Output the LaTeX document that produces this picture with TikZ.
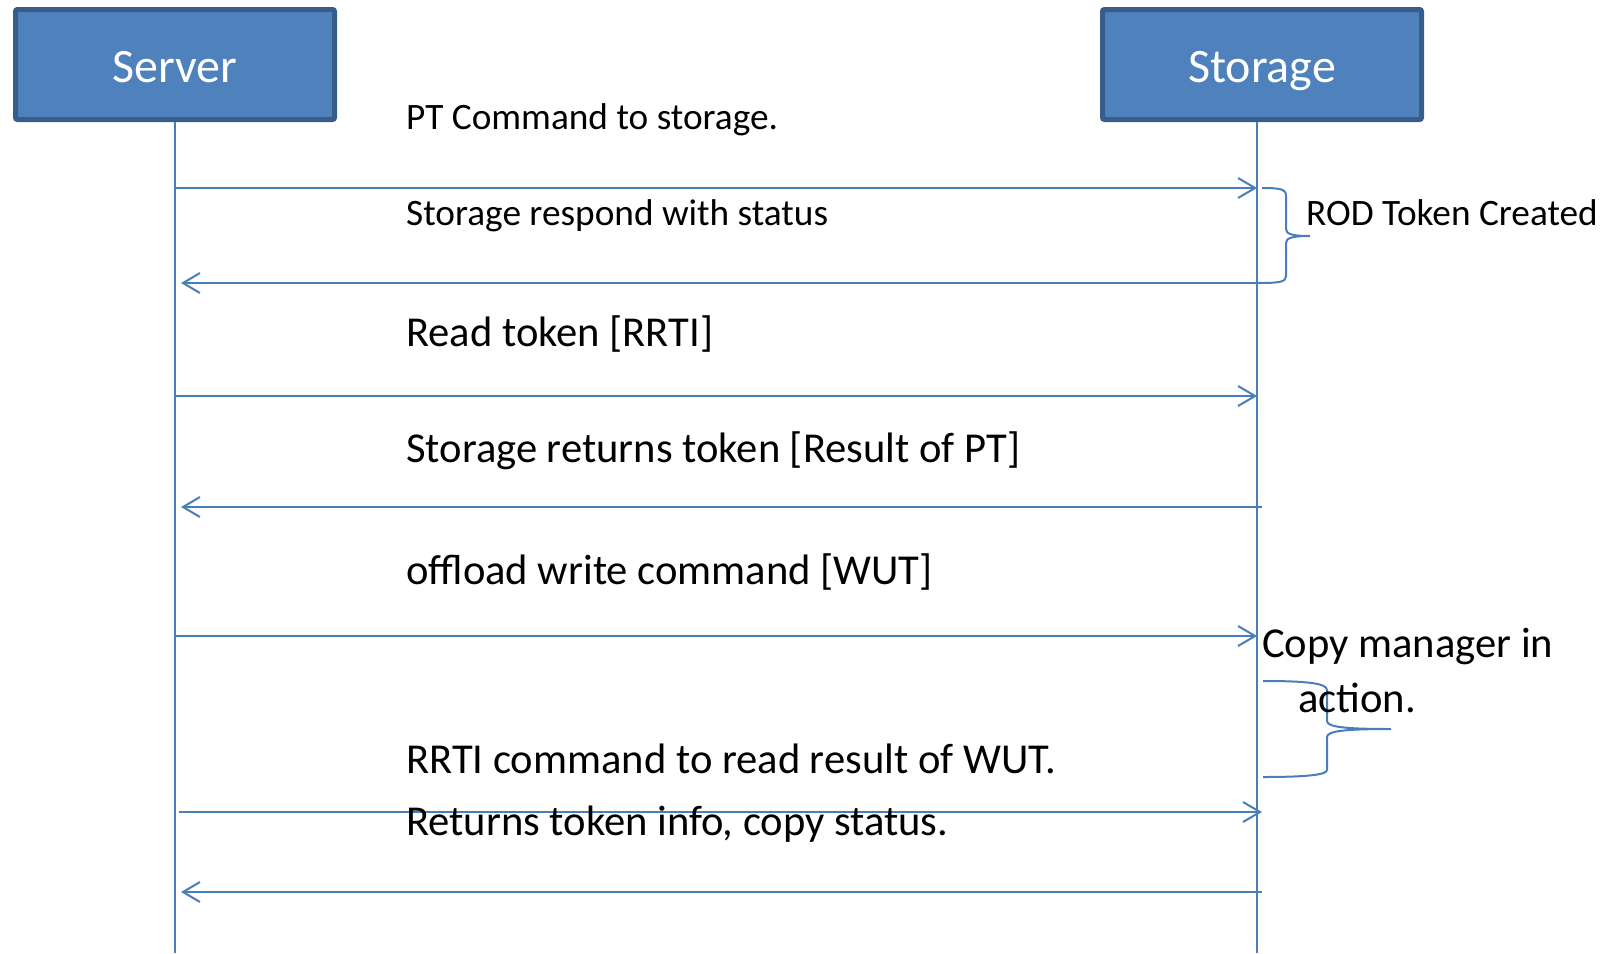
\documentclass[tikz,border=0pt]{standalone}
\usepackage{fontspec}
\setmainfont{Carlito}
\usetikzlibrary{arrows.meta}
\definecolor{boxfill}{HTML}{4F81BD}
\definecolor{boxedge}{HTML}{385D8A}
\definecolor{linec}{HTML}{4A7EBB}
\tikzset{
  actor/.style={draw=boxedge, line width=5pt, fill=boxfill, rounded corners=2pt,
    minimum width=319pt, minimum height=110pt, inner sep=0pt,
    text=white, font=\fontsize{48}{56}\selectfont, text height=35pt, text depth=0pt},
  lifeline/.style={draw=linec, line width=2pt},
  msg/.style={draw=linec, line width=2pt, -{Straight Barb[length=17pt,width=20pt,line width=2pt]}},
  bracepath/.style={draw=linec, line width=2pt},
  smalltxt/.style={anchor=base west, inner sep=0pt, font=\fontsize{37.3}{44}\selectfont},
  bigtxt/.style={anchor=base west, inner sep=0pt, font=\fontsize{42.6}{50}\selectfont},
}
\begin{document}
\begin{tikzpicture}[x=1pt,y=-1pt]
\useasboundingbox (0,0) rectangle (1616,953);
% actors
\node[actor] (server) at (175,64.5) {Server};
\node[actor] (storage) at (1262,64.5) {Storage};
% lifeline ends
\coordinate (serverbot) at (175,953);
\coordinate (storagebot) at (1257,953);
\draw[lifeline] (175,122) coordinate (servertop) -- (serverbot);
\draw[lifeline] (1257,122) coordinate (storagetop) -- (storagebot);
% message points
\coordinate (m1a) at (175,188);  \coordinate (m1b) at (1257,188);
\coordinate (m2a) at (1257,283); \coordinate (m2b) at (181,283);
\coordinate (m3a) at (175,396);  \coordinate (m3b) at (1257,396);
\coordinate (m4a) at (1262,507); \coordinate (m4b) at (181,507);
\coordinate (m5a) at (175,636);  \coordinate (m5b) at (1257,636);
\coordinate (m6a) at (179,812);  \coordinate (m6b) at (1262,812);
\coordinate (m7a) at (1262,892); \coordinate (m7b) at (181,892);
\draw[msg] (m1a) -- (m1b);
\draw[msg] (m2a) -- (m2b);
\draw[msg] (m3a) -- (m3b);
\draw[msg] (m4a) -- (m4b);
\draw[msg] (m5a) -- (m5b);
\draw[msg] (m6a) -- (m6b);
\draw[msg] (m7a) -- (m7b);
% labels
\node[smalltxt] (l1) at (406,129) {PT Command to storage.};
\node[smalltxt] (l2) at (406,225) {Storage respond with status};
\node[bigtxt] (l3) at (406,346) {Read token [RRTI]};
\node[bigtxt] (l4) at (406,462) {Storage returns token [Result of PT]};
\node[bigtxt] (l5) at (406,584) {offload write command [WUT]};
\node[bigtxt] (l6) at (406,773) {RRTI command to read result of WUT.};
\node[bigtxt] (l7) at (406,835) {Returns token info, copy status.};
% brace 1
\coordinate (b1top) at (1262,188);
\coordinate (b1tip) at (1310,236);
\draw[bracepath] (b1top) .. controls (1280,188) and (1286,189) .. (1286,196)
  -- (1286,229) .. controls (1286,234) and (1292,236) .. (b1tip)
  .. controls (1292,236) and (1286,238) .. (1286,243)
  -- (1286,276) .. controls (1286,282) and (1280,283) .. (m2a);
\node[smalltxt] (rod) at (1306,225) {ROD Token Created};
% brace 2
\coordinate (b2top) at (1263,681);
\coordinate (b2tip) at (1391,729);
\coordinate (b2bot) at (1263,777);
\draw[bracepath] (b2top) .. controls (1305,681) and (1327,683) .. (1327,690)
  -- (1327,721) .. controls (1327,727) and (1345,729) .. (b2tip)
  .. controls (1345,729) and (1327,731) .. (1327,737)
  -- (1327,770) .. controls (1327,775) and (1305,777) .. (b2bot);
\node[bigtxt] (cm1) at (1262,657) {Copy manager in};
\node[bigtxt] (cm2) at (1298,712) {action.};
\end{tikzpicture}
\end{document}
